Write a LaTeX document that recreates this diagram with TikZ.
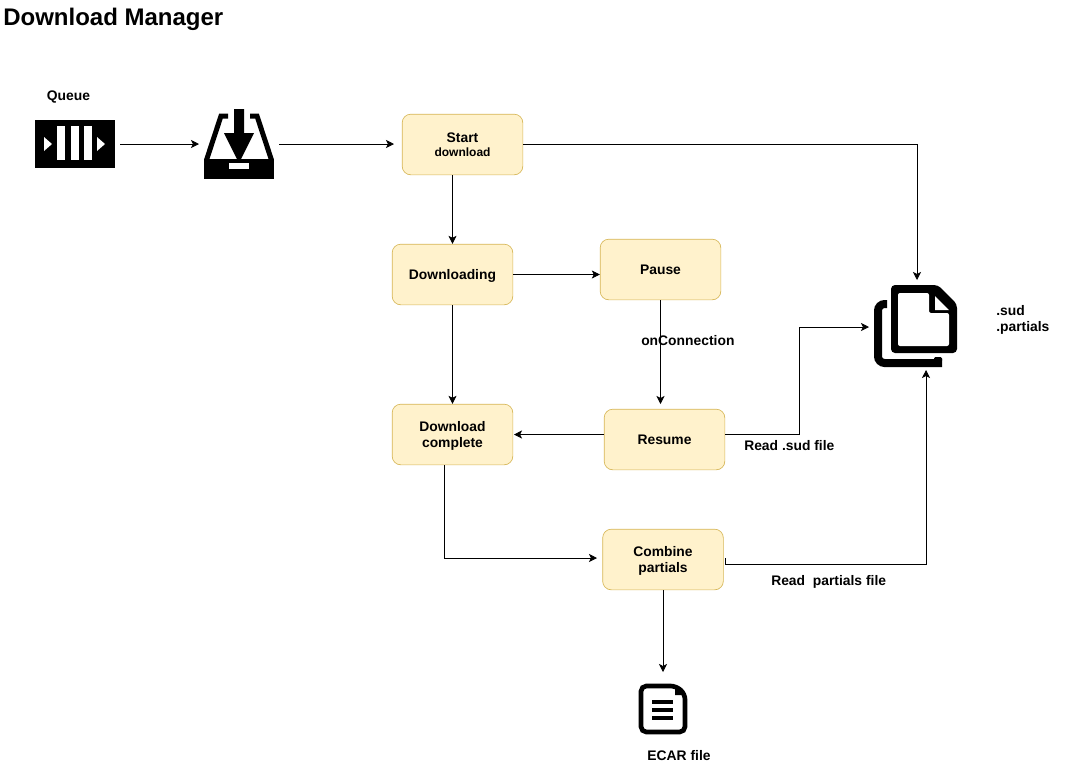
\documentclass[tikz,border=0pt]{standalone}
\usepackage{fontspec}
\setmainfont{Liberation Sans}
\usetikzlibrary{arrows.meta}
\definecolor{boxfill}{HTML}{FFF2CC}
\definecolor{boxline}{HTML}{D6B656}
\newcommand{\boxstrut}{\rule[-3pt]{0pt}{13pt}}
\newcommand{\laststrut}{\rule[-3pt]{0pt}{3pt}}
\tikzset{
  stepbox/.style={draw=boxline, fill=boxfill, rounded corners=6.5pt, minimum width=90.5pt,
    minimum height=45.5pt, align=center, font=\fontsize{10.4}{12}\selectfont\bfseries, line width=0.5pt, inner sep=0pt},
  lbl/.style={font=\fontsize{10.4}{12}\selectfont\bfseries, align=left, inner sep=0pt},
  conn/.style={-{Stealth[length=6pt,width=6pt,inset=1.5pt]}, line width=0.55pt},
  iconbox/.style={minimum width=#1, inner sep=0pt}
}
\begin{document}
\begin{tikzpicture}[x=0.75pt,y=-0.75pt]
  \useasboundingbox (0,0) rectangle (1065,776);
  \node[inner sep=0pt, anchor=west, font=\fontsize{18}{20}\selectfont\bfseries] (title) at (3,19) {Download Manager};
  % icons
  \node[iconbox=60pt, minimum height=36pt] (queue) at (75,144) {};
  \node[iconbox=52.5pt, minimum height=52.5pt] (inbox) at (239,144) {};
  \node[iconbox=63pt, minimum height=62pt] (docs) at (916,326) {};
  \node[iconbox=36pt, minimum height=37.5pt] (ecar) at (663,709) {};
  \fill (35,120) rectangle (115,168);
  \foreach \x in {57,71,84} \fill[white] (\x,126) rectangle (\x+8,160);
  \fill[white] (44,137) -- (52,144) -- (44,151) -- cycle;
  \fill[white] (97,137) -- (105,144) -- (97,151) -- cycle;
  \fill (204,159) rectangle (274,179);
  \draw[line width=3.75pt] (206.5,160) -- (221,116) -- (228,116);
  \draw[line width=3.75pt] (271.5,160) -- (257,116) -- (250,116);
  \fill (234,109) -- (244,109) -- (244,133) -- (254,133) -- (239,163) -- (224,133) -- (234,133) -- cycle;
  \fill[white] (229,163) rectangle (249,169);
  % documents
  \fill[rounded corners=3pt] (891,285) -- (938,285) -- (957,304) -- (957,353) -- (891,353) -- cycle;
  \fill[white, rounded corners=1.5pt] (898,293) -- (929,293) -- (929,313) -- (949,313) -- (949,346) -- (898,346) -- cycle;
  \fill[white] (935,296) -- (949,310) -- (935,310) -- cycle;
  \draw[line width=6pt, rounded corners=5pt] (887,304) -- (878,304) -- (878,363) -- (942,363);
  \fill[rounded corners=1pt] (934,357) rectangle (942,362);
  % ecar file
  \draw[line width=3.5pt, rounded corners=4pt] (641,686) -- (676,686) -- (685,694) -- (685,732) -- (641,732) -- cycle;
  \fill (675,686) -- (685,695) -- (675,695) -- cycle;
  \foreach \y in {702,710,718} \fill (652,\y-2) rectangle (673,\y+2);
  % boxes
  \node[stepbox] (start) at (462.5,144.5) {\boxstrut Start\\[-1.5pt]{\fontsize{9}{10}\selectfont download}\laststrut};
  \node[stepbox] (downloading) at (452.5,274.5) {\boxstrut Downloading};
  \node[stepbox] (pause) at (660.5,269.5) {\boxstrut Pause};
  \node[stepbox] (resume) at (664.5,439.5) {\boxstrut Resume};
  \node[stepbox] (complete) at (452.5,434.5) {\boxstrut Download\\complete\laststrut};
  \node[stepbox] (combine) at (663,559.5) {\boxstrut Combine\\partials\laststrut};
  % labels
  \node[lbl] (queuelabel) at (68.5,97.5) {Queue};
  \node[lbl, anchor=west] (connlabel) at (641,340.5) {onConnection};
  \node[lbl, anchor=west] (sudlabel) at (744,446) {Read .sud file};
  \node[lbl, anchor=west] (partlabel) at (771,582) {Read\ \ partials file};
  \node[lbl, anchor=west] (extlabel) at (996,320) {.sud\\.partials};
  \node[lbl] (ecarlabel) at (679,755.5) {ECAR file};
  % connectors
  \coordinate (queueout) at (120,144);
  \coordinate (inboxin) at (199,144);
  \coordinate (inboxout) at (279,144);
  \coordinate (startin) at (394,144);
  \coordinate (docstop) at (917,280);
  \coordinate (docsleft) at (869,327);
  \coordinate (docsbot) at (926,370);
  \coordinate (resumetop) at (660.5,404);
  \coordinate (completein) at (514,434.5);
  \coordinate (combinein) at (597,558);
  \coordinate (ecarin) at (663,672);
  \coordinate (resumeout) at (725,434.5);
  \coordinate (sudturn) at (799,434.5);
  \coordinate (combineout) at (725.7,558);
  \coordinate (combinestub) at (725.7,564);
  \draw[conn] (queueout) -- (inboxin);
  \draw[conn] (inboxout) -- (startin);
  \draw[conn] (start.east) -| (docstop);
  \draw[conn] (start.south -| downloading.north) -- (downloading.north);
  \draw[conn] (downloading.east) -- (downloading.east -| pause.west);
  \draw[conn] (pause.south) -- (resumetop);
  \draw[conn] (downloading.south) -- (complete.north);
  \draw[conn] (completein -| resume.west) -- (completein);
  \draw[conn] (resumeout) -- (sudturn) |- (docsleft);
  \draw[conn] (complete.south) ++(-8,0) |- (combinein);
  \draw[conn] (combineout) -- (combinestub) -| (docsbot);
  \draw[conn] (combine.south) -- (ecarin);
\end{tikzpicture}
\end{document}
